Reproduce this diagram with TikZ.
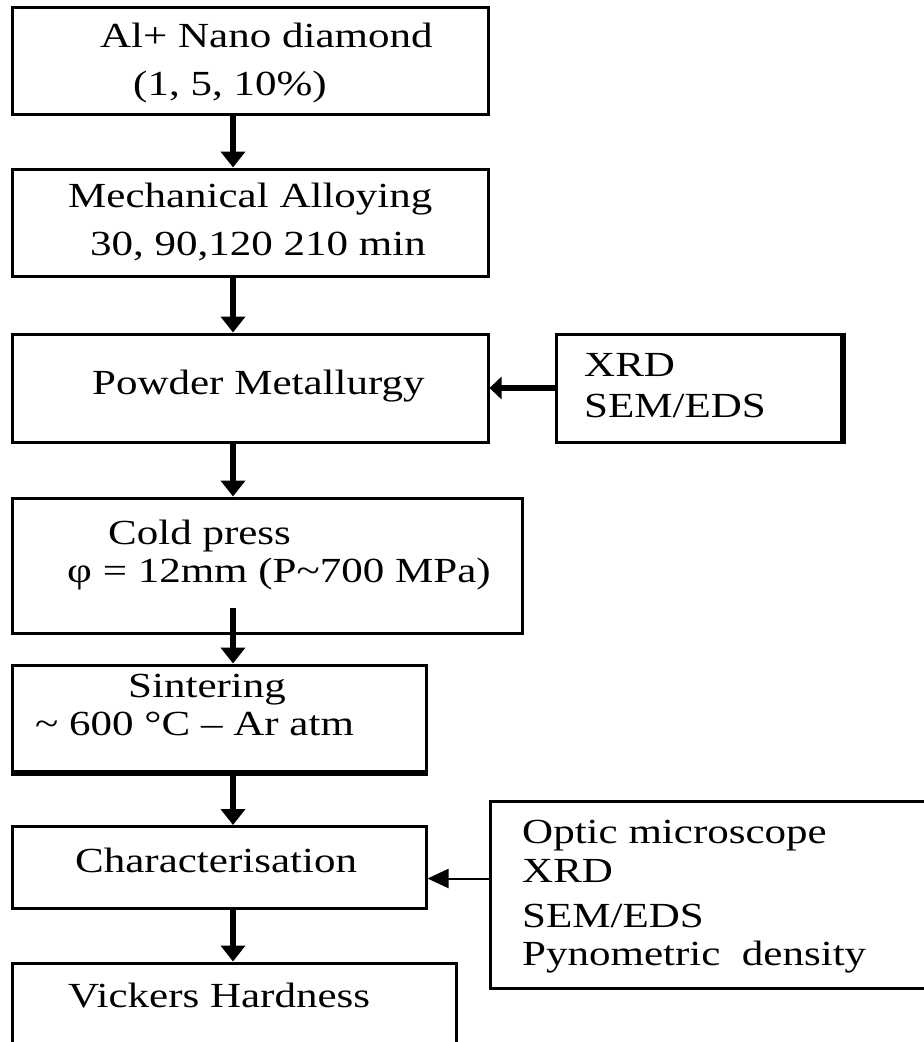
\documentclass[tikz,border=0pt]{standalone}
\usepackage{fontspec}
\setmainfont{Liberation Serif}
\usetikzlibrary{arrows.meta}

\begin{document}
\begin{tikzpicture}[x=1pt, y=-1pt,
  box/.style={draw, line width=3pt, inner sep=0pt},
  txt/.style={anchor=base west, inner sep=0pt, yscale=0.82, transform shape, font=\fontsize{43}{43}\selectfont},
  flow/.style={line width=6.5pt, -{Triangle[width=24pt, length=16pt]}},
  feed/.style={line width=6pt, -{Triangle[width=22pt, length=12pt]}},
  probe/.style={line width=2pt, -{Triangle[width=19pt, length=21pt]}}]
  \useasboundingbox (0,0) rectangle (924,1042);
  \clip (0,0) rectangle (924,1042);

  \node[box, minimum width=476, minimum height=107] (alloy) at (250,60.5) {};
  \node[box, minimum width=476, minimum height=107] (milling) at (250,222.5) {};
  \node[box, minimum width=476, minimum height=108] (powder) at (250,388) {};
  \node[box, minimum width=285, minimum height=108] (xrd) at (698.5,388) {};
  \node[box, minimum width=510, minimum height=135] (press) at (267,565.5) {};
  \node[box, minimum width=414, minimum height=106] (sinter) at (219,718) {};
  \node[box, minimum width=414, minimum height=82] (charac) at (219,867.5) {};
  \node[box, minimum width=445, minimum height=187] (optics) at (712.5,894.5) {};
  \node[box, minimum width=444, minimum height=97] (vickers) at (234,1011.5) {};
  \draw[line width=6pt] (xrd.north east) -- (xrd.south east);
  \draw[line width=6pt] (sinter.south west) -- (sinter.south east);

  \node[txt] (alloyname) at (100,47) {Al+ Nano diamond};
  \node[txt] (alloypct) at (133,95) {(1, 5, 10\%)};
  \node[txt] (millname) at (68,207) {Mechanical Alloying};
  \node[txt] (milltime) at (90,255) {30, 90,120 210 min};
  \node[txt] (powdername) at (92,394) {Powder Metallurgy};
  \node[txt] (xrdone) at (584,376) {XRD}; \node[txt] (semone) at (584,417) {SEM/EDS};
  \node[txt] (pressname) at (108,544) {Cold press};
  \node[txt] (pressdata) at (67,582) {φ = 12mm (P\textasciitilde700 MPa)};
  \node[txt] (sintername) at (128,697) {Sintering};
  \node[txt] (sinterdata) at (35,735) {\textasciitilde{} 600 °C – Ar atm};
  \node[txt] (characname) at (75,872) {Characterisation};
  \node[txt] (optic) at (522,843) {Optic microscope};
  \node[txt] (xrdtwo) at (522,882) {XRD};
  \node[txt] (semtwo) at (522,927) {SEM/EDS};
  \node[txt] (pyno) at (522,965) {Pynometric~ density};
  \node[txt] (vickersname) at (68,1007) {Vickers Hardness};

  \coordinate (spine) at (233,0);
  \draw[flow] (alloy.south -| spine) -- (milling.north -| spine);
  \draw[flow] (milling.south -| spine) -- (powder.north -| spine);
  \draw[flow] (powder.south -| spine) -- (press.north -| spine);
  \draw[flow] ([yshift=27pt]press.south -| spine) -- (sinter.north -| spine);
  \draw[flow] (sinter.south -| spine) -- (charac.north -| spine);
  \draw[flow] (charac.south -| spine) -- (vickers.north -| spine);
  \draw[feed] (xrd.west) -- (powder.east);
  \coordinate (tap) at ([yshift=-11pt]charac.east);
  \draw[probe] (tap -| optics.west) -- (tap);
\end{tikzpicture}
\end{document}
